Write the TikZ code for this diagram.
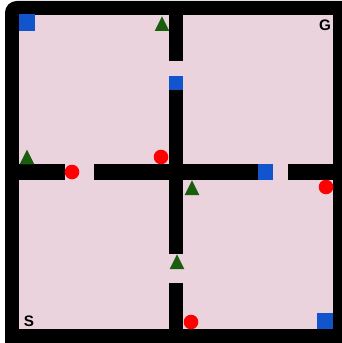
\documentclass[tikz,border=0pt]{standalone}
\usepackage{fontspec}
\setmainfont{Liberation Sans}
\definecolor{roomfill}{RGB}{235,211,221}
\definecolor{keyblue}{RGB}{17,84,204}
\definecolor{treegreen}{RGB}{24,94,14}
\tikzset{
  wall/.style={fill=black},
  key/.style={fill=keyblue},
  coin/.style={fill=red},
  tree/.style={fill=treegreen},
  cornerlabel/.style={font=\fontsize{13}{13}\selectfont\bfseries,inner sep=0pt}
}
\begin{document}
\begin{tikzpicture}[x=0.03cm,y=-0.03cm]
\useasboundingbox (0,0) rectangle (341,343);
\fill[wall,rounded corners=10] (5,1) rectangle (356,358);
\fill[roomfill] (19,15) rectangle (333,329);
% walls
\fill[wall] (169,15) rectangle (183.3,61);
\fill[wall] (169,76) rectangle (183.3,254);
\fill[wall] (169,283) rectangle (183.3,329);
\fill[wall] (19,164.3) rectangle (65,180);
\fill[wall] (94,164.3) rectangle (273,180);
\fill[wall] (288,164.3) rectangle (333,180);
% keys
\fill[key] (19,14.5) rectangle (35,31);
\fill[key] (169,76) rectangle (183.3,90);
\fill[key] (258,164.3) rectangle (273,180);
\fill[key] (317,313) rectangle (333,329);
% coins
\foreach \x/\y in {72/172,161/157,326/187,191/322}{
  \fill[coin] (\x,\y) circle (7.3);
}
% trees
\foreach \x/\y in {162/31,27/164.3,192/195,177/269}{
  \fill[tree] (\x-7.3,\y) -- (\x+7.3,\y) -- (\x,\y-14.7) -- cycle;
}
\node[cornerlabel] (goal) at (325,25) {G};
\node[cornerlabel] (start) at (29,321.5) {S};
\end{tikzpicture}
\end{document}
